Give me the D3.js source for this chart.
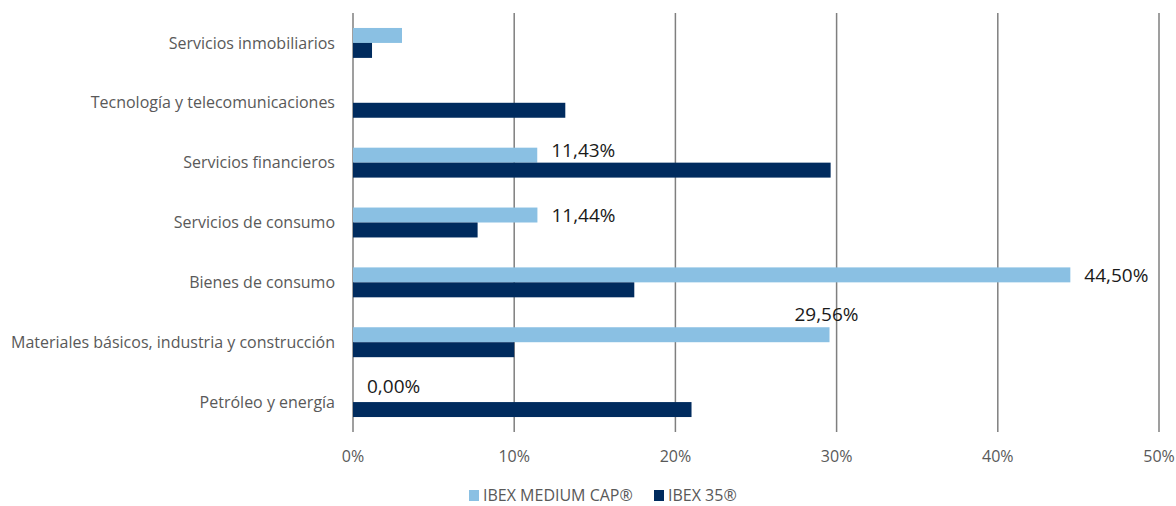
<!DOCTYPE html>
<html><head><meta charset="utf-8">
<script src="https://cdn.jsdelivr.net/npm/d3@7"></script>
<style>body{margin:0;background:#fff}svg{display:block}</style>
</head><body>
<svg id="c" width="1176" height="506"></svg>
<script>
const categories = ["Servicios inmobiliarios","Tecnología y telecomunicaciones","Servicios financieros","Servicios de consumo","Bienes de consumo","Materiales básicos, industria y construcción","Petróleo y energía"];
const seriesNames = ["IBEX MEDIUM CAP®","IBEX 35®"];
const mediumCap = [3.04, 0, 11.43, 11.44, 44.50, 29.56, 0.00];
const ibex35 = [1.18, 13.17, 29.63, 7.73, 17.45, 10.0, 21.0];
const labelText = [null, null, "11,43%", "11,44%", "44,50%", "29,56%", "0,00%"];
const xTicks = [0,10,20,30,40,50];

const colors = ["#8AC0E3","#002B5E"];
const font = "'Open Sans', sans-serif";
// label placement styles: [dx from bar end, dy baseline relative to band centre, anchor]
const labelStyle = [null,null,[14,-6,"start"],[14,-1,"start"],[14,0,"start"],[-3,-21,"middle"],[14,-9,"start"]];

const svg = d3.select("#c");
const m = {l:353, r:17, t:13, b:74};
const W = 1176, H = 506;
const x = d3.scaleLinear().domain([0,50]).range([m.l, W-m.r]);
const y = d3.scaleBand().domain(categories).range([m.t, H-m.b]).paddingInner(0).paddingOuter(0);
const barH = y.bandwidth()*0.25;

// gridlines
svg.append("g").selectAll("line").data(xTicks).join("line")
  .attr("x1", d=>x(d)).attr("x2", d=>x(d))
  .attr("y1", m.t).attr("y2", H-m.b)
  .attr("stroke", "#7f7f7f").attr("stroke-width", 1.5);

// x tick labels
svg.append("g").selectAll("text").data(xTicks).join("text")
  .attr("x", d=>x(d)).attr("y", 462).attr("text-anchor","middle")
  .attr("font-family", font).attr("font-size", 16).attr("fill","#595959")
  .text(d=>d+"%");

// category labels
svg.append("g").selectAll("text").data(categories).join("text")
  .attr("x", 335).attr("y", d=>y(d)+y.bandwidth()/2).attr("dy","0.35em")
  .attr("text-anchor","end").attr("font-family", font).attr("font-size", 16).attr("fill","#595959")
  .text(d=>d);

const center = c => y(c)+y.bandwidth()/2;
// bars
svg.append("g").selectAll("rect").data(categories).join("rect")
  .attr("x", x(0)).attr("y", c=>center(c)-barH)
  .attr("width", (c,i)=>x(mediumCap[i])-x(0)).attr("height", barH)
  .attr("fill", colors[0]);
svg.append("g").selectAll("rect").data(categories).join("rect")
  .attr("x", x(0)).attr("y", c=>center(c))
  .attr("width", (c,i)=>x(ibex35[i])-x(0)).attr("height", barH)
  .attr("fill", colors[1]);

// data labels
svg.append("g").selectAll("text").data(categories).join("text")
  .filter((c,i)=>labelText[i])
  .attr("x", (c)=>{const i=categories.indexOf(c);return x(mediumCap[i])+labelStyle[i][0];})
  .attr("y", (c)=>{const i=categories.indexOf(c);return center(c)+labelStyle[i][1];})
  .attr("text-anchor", c=>labelStyle[categories.indexOf(c)][2])
  .attr("font-family", font).attr("font-size", 19).attr("fill","#1a1a1a")
  .text(c=>labelText[categories.indexOf(c)]);

// legend
const lg = svg.append("g");
const legX = [469, 654];
seriesNames.forEach((s,i)=>{
  lg.append("rect").attr("x", legX[i]).attr("y", 490).attr("width",10).attr("height",11).attr("fill", colors[i]);
  lg.append("text").attr("x", legX[i]+14).attr("y", 501)
    .attr("font-family", font).attr("font-size", 16).attr("fill","#595959").text(s);
});
</script>
</body></html>
